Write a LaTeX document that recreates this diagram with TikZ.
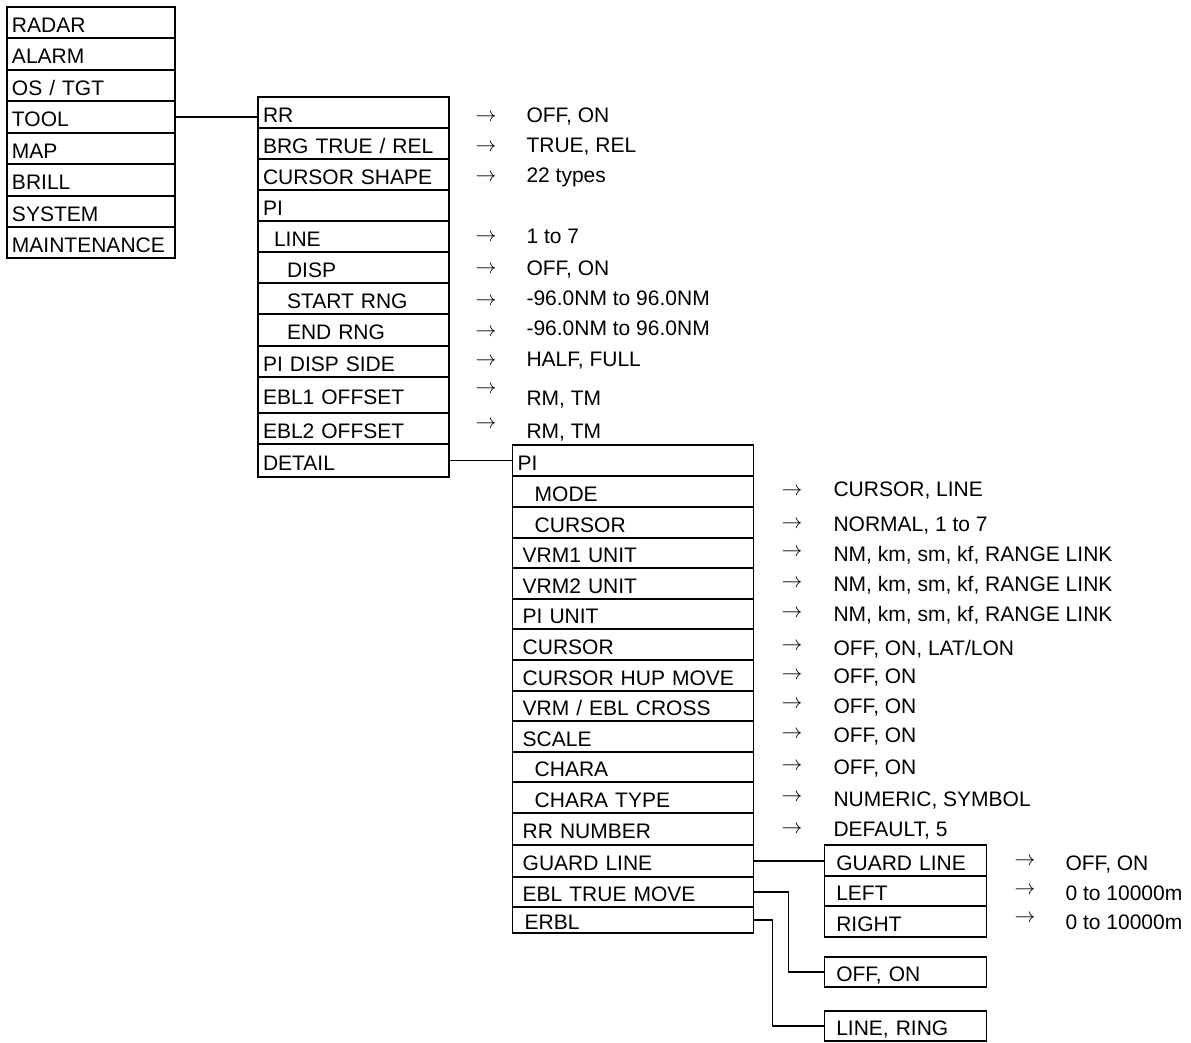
\documentclass[tikz,border=0pt]{standalone}
\usepackage{fontspec}
\setmainfont{Liberation Sans}
\begin{document}
\begin{tikzpicture}[x=1pt,y=-1pt,line width=1.1pt,
  item/.style={draw,rectangle,text width=#1,align=left,inner xsep=5pt,inner ysep=0pt,
    text height=19pt,text depth=0pt,font=\fontsize{21}{21}\selectfont},
  val/.style={anchor=west,inner sep=0pt,text height=15pt,text depth=0pt,
    font=\fontsize{21}{21}\selectfont},
  arr/.style={anchor=base,inner sep=0pt,font=\huge}]
  \useasboundingbox (0,0) rectangle (1191,1042);
  % main menu
  \foreach \n/\t/\a/\b in {radar/RADAR/7/38, alarm/ALARM/38/70, ostgt/{OS / TGT}/70/101,
      tool/TOOL/101/133, map/MAP/133/164, brill/BRILL/164/196, system/SYSTEM/196/227,
      maint/MAINTENANCE/227/258}
    \node[item=158pt,minimum height={(\b-\a)*1pt}] (\n) at (91,{(\a+\b)/2}) {\t};
  % TOOL menu
  \foreach \n/\t/\a/\b in {rr/RR/97/128, brg/{BRG TRUE / REL}/128/159,
      shape/CURSOR SHAPE/159/190, pi/PI/190/221, line/{\hspace*{11pt}LINE}/221/252,
      disp/{\hspace*{24pt}DISP}/252/283, start/{\hspace*{24pt}START RNG}/283/314,
      end/{\hspace*{24pt}END RNG}/314/346, side/PI DISP SIDE/346/377,
      eblone/EBL1 OFFSET/377/413, ebltwo/EBL2 OFFSET/413/444, detail/DETAIL/444/477}
    \node[item=181pt,minimum height={(\b-\a)*1pt}] (\n) at (353.5,{(\a+\b)/2}) {\t};
  % DETAIL menu
  \foreach \n/\t/\a/\b in {dpi/PI/445/476, mode/{\hspace*{17pt}MODE}/476/507,
      dcursor/{\hspace*{17pt}CURSOR}/507/538, vrmone/{\hspace*{5pt}VRM1 UNIT}/538/568,
      vrmtwo/{\hspace*{5pt}VRM2 UNIT}/568/599, piunit/{\hspace*{5pt}PI UNIT}/599/629,
      cursor/{\hspace*{5pt}CURSOR}/629/660, hup/{\hspace*{5pt}CURSOR HUP MOVE}/660/691,
      cross/{\hspace*{5pt}VRM / EBL CROSS}/691/721, scale/{\hspace*{5pt}SCALE}/721/752,
      chara/{\hspace*{17pt}CHARA}/752/782, charatype/{\hspace*{17pt}CHARA TYPE}/782/813,
      rrnum/{\hspace*{5pt}RR NUMBER}/813/845, guard/{\hspace*{5pt}GUARD LINE}/845/877,
      ebltm/{\hspace*{5pt}EBL TRUE MOVE}/877/907, erbl/{\hspace*{7pt}ERBL}/907/933}
    \node[item=230.6pt,minimum height={(\b-\a)*1pt}] (\n) at (633,{(\a+\b)/2}) {\t};
  % GUARD LINE menu and single boxes
  \foreach \n/\t/\a/\b in {glguard/GUARD LINE/845/876, glleft/LEFT/876/906,
      glright/RIGHT/906/937, offon/{OFF, ON}/957/987, linering/{LINE, RING}/1011/1041}
    \node[item=138.5pt,inner xsep=12pt,minimum height={(\b-\a)*1pt}] (\n) at (905.5,{(\a+\b)/2}) {\t};
  % settings
  \foreach \p/\q/\v [count=\i] in {116.7/115/{OFF, ON}, 146.7/145/{TRUE, REL},
      176.7/175/22 types, 236.7/236/1 to 7, 268.3/268/{OFF, ON},
      300/298/-96.0NM to 96.0NM, 331.7/327.5/-96.0NM to 96.0NM, 360/359/{HALF, FULL},
      388.3/397.5/{RM, TM}, 423.3/430.5/{RM, TM}}
    {\node[arr] (ta\i) at (486,{\p+5}) {$\rightarrow$};
     \node[val] (tv\i) at (526,\q) {\v};}
  \foreach \p/\q/\v [count=\i] in {490/489/{CURSOR, LINE}, 523/524/{NORMAL, 1 to 7},
      551.7/553.7/{NM, km, sm, kf, RANGE LINK}, 582.7/584/{NM, km, sm, kf, RANGE LINK},
      612.7/614/{NM, km, sm, kf, RANGE LINK}, 645/647.5/{OFF, ON, LAT/LON},
      674/676/{OFF, ON}, 703/705.5/{OFF, ON}, 733/735/{OFF, ON}, 765/766.5/{OFF, ON},
      796.7/799/{NUMERIC, SYMBOL}, 828/829/{DEFAULT, 5}}
    {\node[arr] (da\i) at (792,{\p+5}) {$\rightarrow$};
     \node[val] (dv\i) at (833,\q) {\v};}
  \foreach \p/\q/\v [count=\i] in {860/862.5/{OFF, ON}, 889/892.5/0 to 10000m,
      917/921.5/0 to 10000m}
    {\node[arr] (ga\i) at (1025,{\p+5}) {$\rightarrow$};
     \node[val] (gv\i) at (1065,\q) {\v};}
  % links
  \draw (tool.east) -- (tool.east -| rr.west);
  \draw (detail.east) -- (detail.east -| dpi.west);
  \draw (guard.east) -- (guard.east -| glguard.west);
  \draw (ebltm.east) -- ++(35,0) |- (offon.west);
  \draw (erbl.east) -- ++(19,0) |- (linering.west);
\end{tikzpicture}
\end{document}
